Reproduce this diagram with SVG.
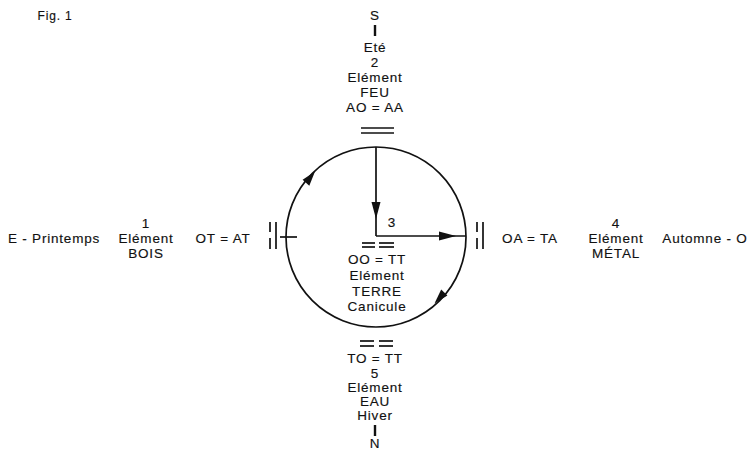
<svg xmlns="http://www.w3.org/2000/svg" width="750" height="451" viewBox="0 0 750 451">
<style>
text{font-family:"Liberation Sans",Arial,sans-serif;font-size:13.5px;letter-spacing:0.8px;fill:#111;stroke:#111;stroke-width:0.15;text-anchor:middle}
.ln{stroke:#111;stroke-width:1.7;fill:none}
.bar{stroke:#111;stroke-width:2.4;fill:none}
.ah{fill:#111;stroke:none}
</style>
<rect width="750" height="451" fill="#fff"/>
<text x="55" y="20" style="font-size:12px">Fig. 1</text>

<g id="north">
<text x="375" y="20">S</text>
<line class="bar" x1="375" y1="25" x2="375" y2="36"/>
<text x="375" y="52">Eté</text>
<text x="375" y="67">2</text>
<text x="375" y="82">Elément</text>
<text x="375" y="97">FEU</text>
<text x="375" y="112">AO = AA</text>
<line class="ln" x1="361" y1="128" x2="394" y2="128"/>
<line class="ln" x1="361" y1="133" x2="394" y2="133"/>
</g>

<g id="west">
<text x="54" y="243">E - Printemps</text>
<text x="146" y="228">1</text>
<text x="146" y="243">Elément</text>
<text x="146" y="258">BOIS</text>
<text x="223" y="243">OT = AT</text>
<line class="ln" x1="270" y1="222" x2="270" y2="232"/>
<line class="ln" x1="270" y1="238" x2="270" y2="249"/>
<line class="ln" x1="276" y1="222" x2="276" y2="249"/>
</g>

<g id="center">
<text x="392" y="227">3</text>
<line class="ln" x1="362" y1="243" x2="375" y2="243"/>
<line class="ln" x1="379" y1="243" x2="394" y2="243"/>
<line class="ln" x1="362" y1="247" x2="375" y2="247"/>
<line class="ln" x1="379" y1="247" x2="394" y2="247"/>
<text x="377" y="264">OO = TT</text>
<text x="377" y="280">Elément</text>
<text x="377" y="296">TERRE</text>
<text x="377" y="311">Canicule</text>
</g>

<g id="east">
<line class="ln" x1="477" y1="222" x2="477" y2="232"/>
<line class="ln" x1="477" y1="238" x2="477" y2="249"/>
<line class="ln" x1="483" y1="222" x2="483" y2="249"/>
<text x="530" y="243">OA = TA</text>
<text x="616" y="228">4</text>
<text x="616" y="243">Elément</text>
<text x="616" y="258">MÉTAL</text>
<text x="705" y="243">Automne - O</text>
</g>

<g id="south">
<line class="ln" x1="360" y1="341" x2="374" y2="341"/>
<line class="ln" x1="379" y1="341" x2="393" y2="341"/>
<line class="ln" x1="360" y1="346" x2="374" y2="346"/>
<line class="ln" x1="379" y1="346" x2="393" y2="346"/>
<text x="375" y="363">TO = TT</text>
<text x="375" y="378">5</text>
<text x="375" y="392">Elément</text>
<text x="375" y="406">EAU</text>
<text x="375" y="420">Hiver</text>
<line class="bar" x1="375" y1="425" x2="375" y2="436"/>
<text x="375" y="448">N</text>
</g>

<g id="connectors">
<circle class="ln" cx="376" cy="237" r="90"/>
<line class="ln" x1="376" y1="147" x2="376" y2="236"/>
<polygon class="ah" points="376,219 371.5,202 380.5,202"/>
<line class="ln" x1="376" y1="236" x2="466" y2="236"/>
<polygon class="ah" points="456,236 439,231.5 439,240.5"/>
<line class="ln" x1="280" y1="237" x2="297" y2="237"/>
<polygon class="ah" points="315,171.5 309.3,185.8 302.6,179.8"/>
<polygon class="ah" points="434.5,303.5 447.4,295.6 441.2,289.5"/>
</g>
</svg>
